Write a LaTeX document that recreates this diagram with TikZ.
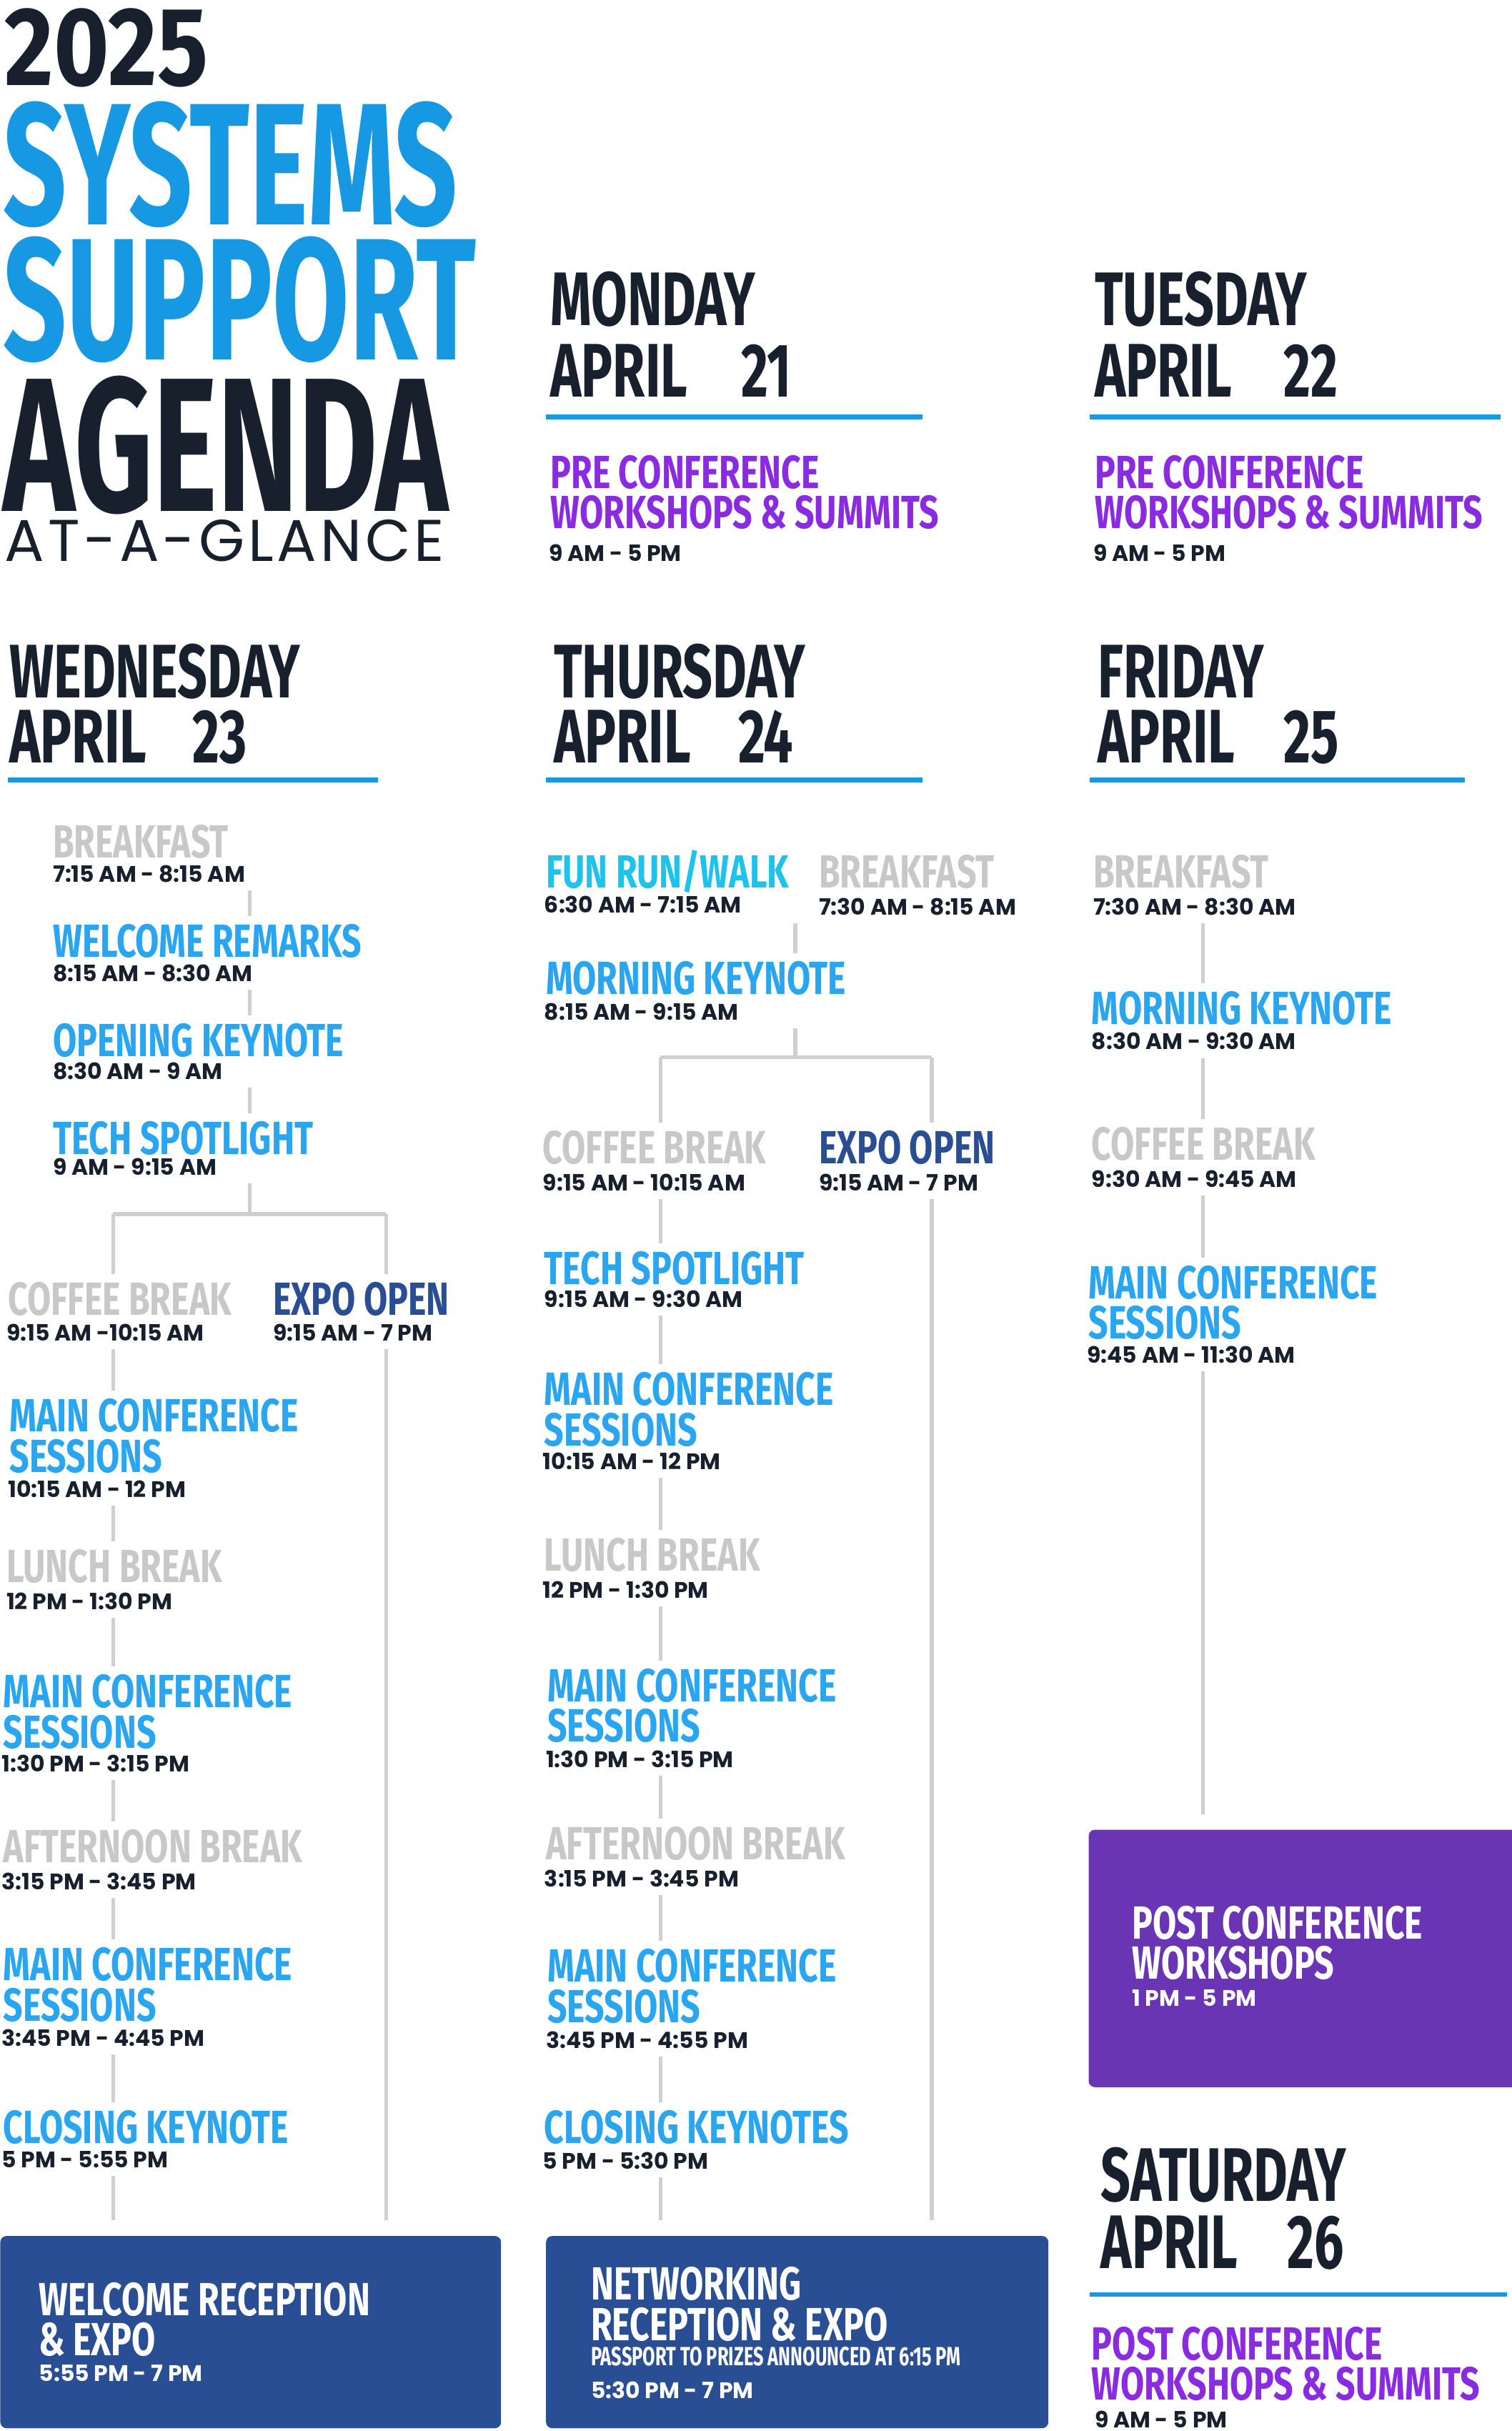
\documentclass[tikz,border=0pt]{standalone}
\usepackage{fontspec}
\newfontfamily\condA[FakeStretch=0.74]{Fira Sans}
\newfontfamily\condD[FakeStretch=0.69]{Fira Sans}
\newfontfamily\condB[FakeStretch=0.85]{Fira Sans}
\newfontfamily\condT[FakeStretch=0.64]{Fira Sans}
\newfontfamily\fira{Fira Sans}
\newfontfamily\pop{Poppins}
\newfontfamily\popwide[LetterSpace=6]{Poppins}
\definecolor{navy}{HTML}{18202E}
\definecolor{tblue}{HTML}{1798E3}
\definecolor{iblue}{HTML}{2AA5F0}
\definecolor{cyan2}{HTML}{1EC3EC}
\definecolor{purp}{HTML}{8A2BE2}
\definecolor{pbox}{HTML}{6A35B5}
\definecolor{dbox}{HTML}{2A4E93}
\definecolor{gry}{HTML}{C8C8C8}
\definecolor{cline}{HTML}{CFCFCF}
\tikzset{
 ttl/.style={anchor=base west,inner sep=0pt,font=\condA\bfseries\fontsize{30}{30}\selectfont,text=iblue},
 gtl/.style={ttl,text=gry},
 ptl/.style={ttl,text=purp},
 wtl/.style={ttl,text=white},
 tm/.style={anchor=base west,inner sep=0pt,font=\pop\bfseries\fontsize{14.5}{14.5}\selectfont,text=navy},
 wtm/.style={tm,text=white},
 day/.style={anchor=base west,inner sep=0pt,font=\condD\bfseries\fontsize{49}{49}\selectfont,text=navy},
 hl/.style={draw=tblue,line width=3pt},
 cn/.style={draw=cline,line width=2.5pt,shorten <=5pt,shorten >=5pt},
 cj/.style={draw=cline,line width=2.5pt},
 bx/.style={rounded corners=4pt,inner sep=0pt,draw=none}
}
\begin{document}
\begin{tikzpicture}[x=1pt,y=-1pt]
\useasboundingbox[fill=white] (0,0) rectangle (975,1568);
% title
\node[anchor=base west,inner sep=0pt,font=\condB\bfseries\fontsize{72}{72}\selectfont,text=navy] (y25) at (3,55) {2025};
\node[anchor=base west,inner sep=0pt,font=\condT\bfseries\fontsize{112}{112}\selectfont,text=tblue] (sys) at (2,145) {SYSTEMS};
\node[anchor=base west,inner sep=0pt,font=\condT\bfseries\fontsize{112}{112}\selectfont,text=tblue] (sup) at (2,232) {SUPPORT};
\node[anchor=base west,inner sep=0pt,font=\condT\bfseries\fontsize{123}{123}\selectfont,text=navy] (age) at (2,330) {AGENDA};
\node[anchor=base west,inner sep=0pt,font=\popwide\fontsize{38}{38}\selectfont,text=navy] (aag) at (3,362) {AT-A-GLANCE};
% Monday / Tuesday
\node[day] (mon) at (355,210) {MONDAY};
\node[day] (mona) at (355,256) {APRIL};
\node[day] (mond) at (478,256) {21};
\draw[hl] (352,269) -- (595,269);
\node[ptl] (mp1) at (355,315) {PRE CONFERENCE};
\node[ptl] (mp2) at (355,341) {WORKSHOPS \& SUMMITS};
\node[tm] (mpt) at (354,362) {9 AM - 5 PM};
\node[day] (tue) at (706,210) {TUESDAY};
\node[day] (tuea) at (706,256) {APRIL};
\node[day] (tued) at (828,256) {22};
\draw[hl] (703,269) -- (968,269);
\node[ptl] (tp1) at (706,315) {PRE CONFERENCE};
\node[ptl] (tp2) at (706,341) {WORKSHOPS \& SUMMITS};
\node[tm] (tpt) at (705,362) {9 AM - 5 PM};
% headers row 2
\node[day] (wed) at (6,450) {WEDNESDAY};
\node[day] (weda) at (6,492) {APRIL};
\node[day] (wedd) at (124,492) {23};
\draw[hl] (5,503) -- (244,503);
\node[day] (thu) at (357,450) {THURSDAY};
\node[day] (thua) at (357,492) {APRIL};
\node[day] (thud) at (476,492) {24};
\draw[hl] (352,503) -- (595,503);
\node[day] (fri) at (708,450) {FRIDAY};
\node[day] (fria) at (708,492) {APRIL};
\node[day] (frid) at (828,492) {25};
\draw[hl] (703,503) -- (945,503);
% Wednesday
\node[gtl] (w1) at (34,553.5) {BREAKFAST};
\node[tm] (w1t) at (34,569) {7:15 AM - 8:15 AM};
\node[ttl] (w2) at (34,617.5) {WELCOME REMARKS};
\node[tm] (w2t) at (34,633) {8:15 AM - 8:30 AM};
\node[ttl] (w3) at (34,681.5) {OPENING KEYNOTE};
\node[tm] (w3t) at (34,696) {8:30 AM - 9 AM};
\node[ttl] (w4) at (34,744.5) {TECH SPOTLIGHT};
\node[tm] (w4t) at (34,758) {9 AM - 9:15 AM};
\coordinate (wx) at (161,0);
\draw[cn] (w1t.south -| wx) -- (w2.north -| wx);
\draw[cn] (w2t.south -| wx) -- (w3.north -| wx);
\draw[cn] (w3t.south -| wx) -- (w4.north -| wx);
\coordinate (wj) at (161,783);
\coordinate (wjl) at (73,783);
\coordinate (wjr) at (249,783);
\draw[cj,shorten <=5pt] (w4t.south -| wx) -- (wj);
\draw[cj] (wjl) -- (wjr);
\node[gtl] (w5) at (5,848.5) {COFFEE BREAK};
\node[tm] (w5t) at (4,865) {9:15 AM -10:15 AM};
\node[ttl,text=dbox] (we) at (176,848.5) {EXPO OPEN};
\node[tm] (wet) at (176,865) {9:15 AM - 7 PM};
\draw[cj,shorten >=5pt] (wjl) -- (w5.north -| wjl);
\draw[cj,shorten >=5pt] (wjr) -- (we.north -| wjr);
\node[ttl] (w6) at (6,923.5) {MAIN CONFERENCE};
\node[ttl] (w6b) at (6,949.5) {SESSIONS};
\node[tm] (w6t) at (5,966) {10:15 AM - 12 PM};
\node[gtl] (w7) at (4,1020.5) {LUNCH BREAK};
\node[tm] (w7t) at (4,1038) {12 PM - 1:30 PM};
\node[ttl] (w8) at (2,1101.5) {MAIN CONFERENCE};
\node[ttl] (w8b) at (2,1127.5) {SESSIONS};
\node[tm] (w8t) at (1,1143) {1:30 PM - 3:15 PM};
\node[gtl] (w9) at (2,1201.5) {AFTERNOON BREAK};
\node[tm] (w9t) at (1,1219) {3:15 PM - 3:45 PM};
\node[ttl] (w10) at (2,1277.5) {MAIN CONFERENCE};
\node[ttl] (w10b) at (2,1303.5) {SESSIONS};
\node[tm] (w10t) at (1,1320) {3:45 PM - 4:45 PM};
\node[ttl] (w11) at (2,1382.5) {CLOSING KEYNOTE};
\node[tm] (w11t) at (1,1398) {5 PM - 5:55 PM};
\node[bx,fill=dbox,minimum width=323pt,minimum height=124pt,anchor=north west] (wbox) at (0,1442) {};
\node[wtl] (wb1) at (25,1493.5) {WELCOME RECEPTION};
\node[wtl] (wb2) at (25,1519.5) {\& EXPO};
\node[wtm] (wb3) at (25,1536) {5:55 PM - 7 PM};
\coordinate (wl) at (73,0);
\draw[cn] (w5t.south -| wl) -- (w6.north -| wl);
\draw[cn] (w6t.south -| wl) -- (w7.north -| wl);
\draw[cn] (w7t.south -| wl) -- (w8.north -| wl);
\draw[cn] (w8t.south -| wl) -- (w9.north -| wl);
\draw[cn] (w9t.south -| wl) -- (w10.north -| wl);
\draw[cn] (w10t.south -| wl) -- (w11.north -| wl);
\draw[cn,shorten >=10pt] (w11t.south -| wl) -- (wbox.north -| wl);
\draw[cn,shorten >=10pt] (wet.south -| wjr) -- (wbox.north -| wjr);
% Thursday
\node[ttl,text=cyan2] (h0) at (352,572.5) {FUN RUN/WALK};
\node[tm] (h0t) at (351,589) {6:30 AM - 7:15 AM};
\node[gtl] (h1) at (528,572.5) {BREAKFAST};
\node[tm] (h1t) at (528,590) {7:30 AM - 8:15 AM};
\node[ttl] (h2) at (352,641.5) {MORNING KEYNOTE};
\node[tm] (h2t) at (351,658) {8:15 AM - 9:15 AM};
\coordinate (hx) at (513,0);
\draw[cn] (h1t.south -| hx) -- (h2.north -| hx);
\coordinate (hj) at (513,682);
\coordinate (hjl) at (426,682);
\coordinate (hjr) at (601,682);
\draw[cj,shorten <=5pt] (h2t.south -| hx) -- (hj);
\draw[cj] (hjl) -- (hjr);
\node[gtl] (h3) at (350,750.5) {COFFEE BREAK};
\node[tm] (h3t) at (350,768) {9:15 AM - 10:15 AM};
\node[ttl,text=dbox] (he) at (528,750.5) {EXPO OPEN};
\node[tm] (het) at (528,768) {9:15 AM - 7 PM};
\draw[cj,shorten >=5pt] (hjl) -- (h3.north -| hjl);
\draw[cj,shorten >=5pt] (hjr) -- (he.north -| hjr);
\node[ttl] (h4) at (351,828.5) {TECH SPOTLIGHT};
\node[tm] (h4t) at (351,843) {9:15 AM - 9:30 AM};
\node[ttl] (h5) at (351,906.5) {MAIN CONFERENCE};
\node[ttl] (h5b) at (351,932.5) {SESSIONS};
\node[tm] (h5t) at (350,948) {10:15 AM - 12 PM};
\node[gtl] (h6) at (351,1013.5) {LUNCH BREAK};
\node[tm] (h6t) at (350,1031) {12 PM - 1:30 PM};
\node[ttl] (h7) at (353,1097.5) {MAIN CONFERENCE};
\node[ttl] (h7b) at (353,1123.5) {SESSIONS};
\node[tm] (h7t) at (352,1140) {1:30 PM - 3:15 PM};
\node[gtl] (h8) at (352,1199.5) {AFTERNOON BREAK};
\node[tm] (h8t) at (351,1217) {3:15 PM - 3:45 PM};
\node[ttl] (h9) at (353,1278.5) {MAIN CONFERENCE};
\node[ttl] (h9b) at (353,1304.5) {SESSIONS};
\node[tm] (h9t) at (352,1321) {3:45 PM - 4:55 PM};
\node[ttl] (h10) at (351,1382.5) {CLOSING KEYNOTES};
\node[tm] (h10t) at (350,1399) {5 PM - 5:30 PM};
\node[bx,fill=dbox,minimum width=324pt,minimum height=124pt,anchor=north west] (hbox) at (352,1442) {};
\node[wtl] (hb1) at (381,1483.5) {NETWORKING};
\node[wtl] (hb2) at (381,1509.5) {RECEPTION \& EXPO};
\node[anchor=base west,inner sep=0pt,font=\condD\bfseries\fontsize{17}{17}\selectfont,text=white] (hb3) at (381,1526) {PASSPORT TO PRIZES ANNOUNCED AT 6:15 PM};
\node[wtm] (hb4) at (381,1547) {5:30 PM - 7 PM};
\coordinate (hl) at (426,0);
\draw[cn] (h3t.south -| hl) -- (h4.north -| hl);
\draw[cn] (h4t.south -| hl) -- (h5.north -| hl);
\draw[cn] (h5t.south -| hl) -- (h6.north -| hl);
\draw[cn] (h6t.south -| hl) -- (h7.north -| hl);
\draw[cn] (h7t.south -| hl) -- (h8.north -| hl);
\draw[cn] (h8t.south -| hl) -- (h9.north -| hl);
\draw[cn] (h9t.south -| hl) -- (h10.north -| hl);
\draw[cn,shorten >=10pt] (h10t.south -| hl) -- (hbox.north -| hl);
\draw[cn,shorten >=10pt] (het.south -| hjr) -- (hbox.north -| hjr);
% Friday
\node[gtl] (f1) at (705,572.5) {BREAKFAST};
\node[tm] (f1t) at (705,590) {7:30 AM - 8:30 AM};
\node[ttl] (f2) at (704,660.5) {MORNING KEYNOTE};
\node[tm] (f2t) at (704,677) {8:30 AM - 9:30 AM};
\node[gtl] (f3) at (704,748.5) {COFFEE BREAK};
\node[tm] (f3t) at (704,766) {9:30 AM - 9:45 AM};
\node[ttl] (f4) at (702,837.5) {MAIN CONFERENCE};
\node[ttl] (f4b) at (702,863.5) {SESSIONS};
\node[tm] (f4t) at (701,879) {9:45 AM - 11:30 AM};
\node[bx,fill=pbox,minimum width=280pt,minimum height=166pt,anchor=north west] (fbox) at (702,1180) {};
\node[wtl] (fb1) at (730,1250.5) {POST CONFERENCE};
\node[wtl] (fb2) at (730,1276.5) {WORKSHOPS};
\node[wtm] (fb3) at (730,1294) {1 PM - 5 PM};
\coordinate (fl) at (776,0);
\draw[cn] (f1t.south -| fl) -- (f2.north -| fl);
\draw[cn] (f2t.south -| fl) -- (f3.north -| fl);
\draw[cn] (f3t.south -| fl) -- (f4.north -| fl);
\draw[cn,shorten >=10pt] (f4t.south -| fl) -- (fbox.north -| fl);
% Saturday
\node[day] (sat) at (710,1420) {SATURDAY};
\node[day] (sata) at (710,1463) {APRIL};
\node[day] (satd) at (830,1463) {26};
\draw[hl] (703,1480) -- (972,1480);
\node[ptl] (sp1) at (704,1522) {POST CONFERENCE};
\node[ptl] (sp2) at (704,1548) {WORKSHOPS \& SUMMITS};
\node[tm] (spt) at (706,1566) {9 AM - 5 PM};
\end{tikzpicture}
\end{document}
